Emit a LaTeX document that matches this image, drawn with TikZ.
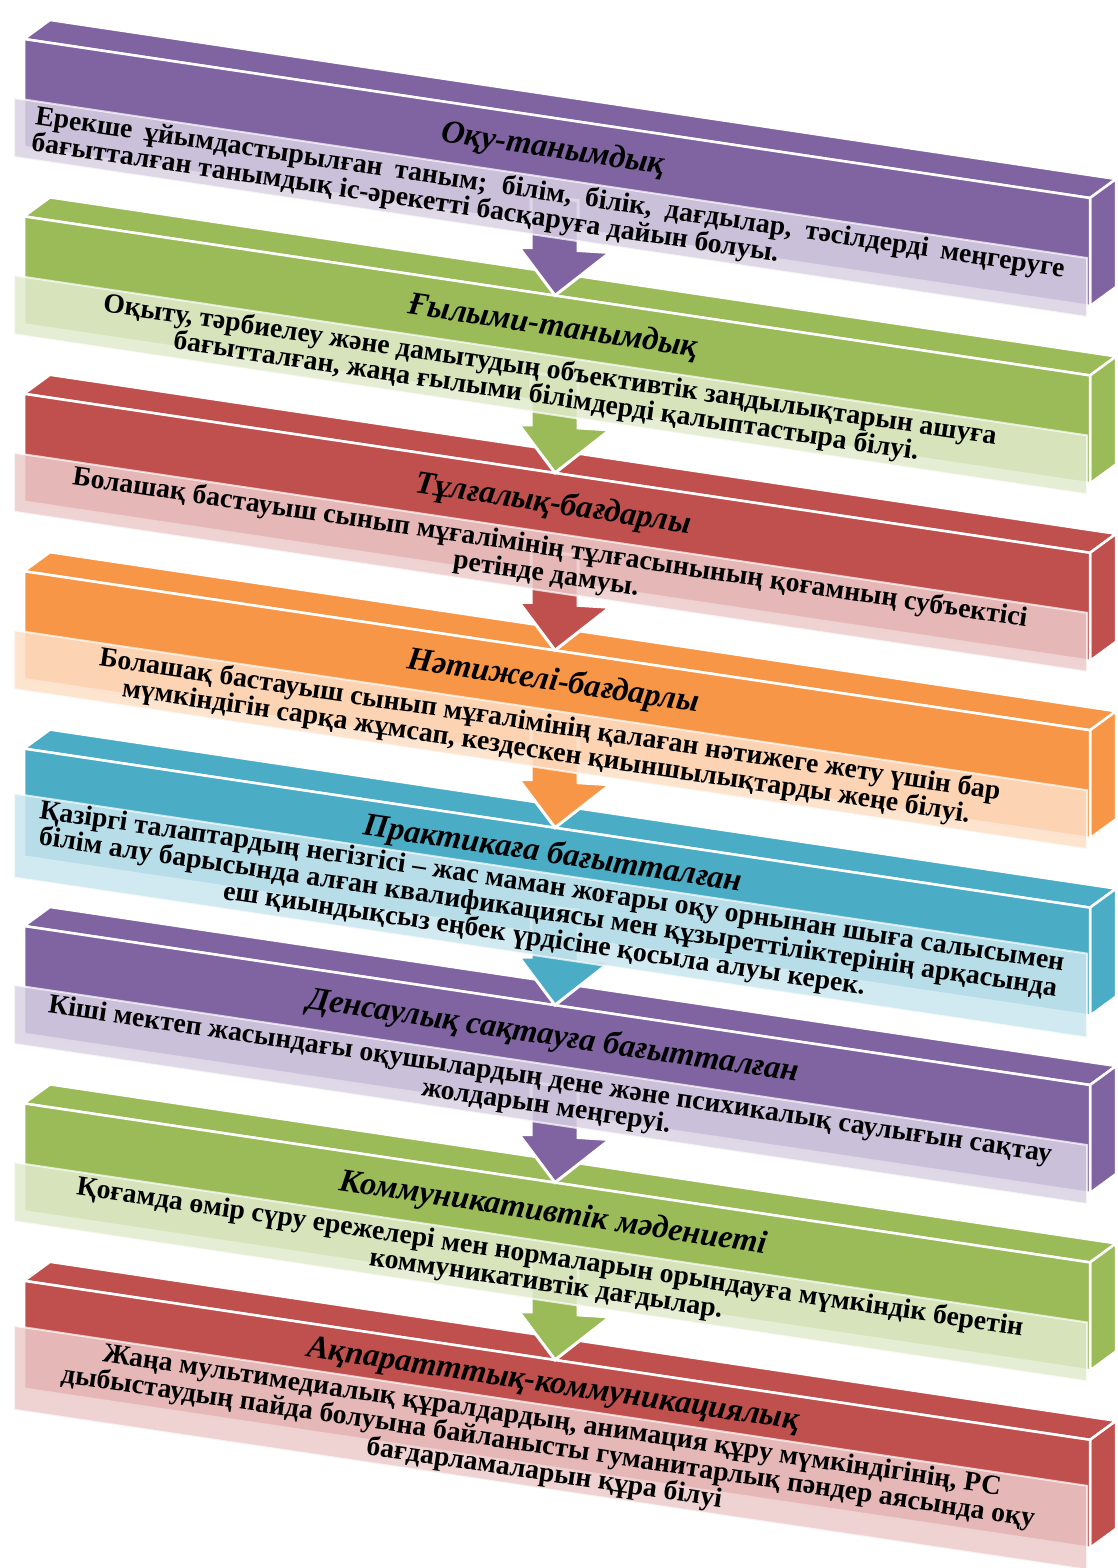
\documentclass[tikz,border=0pt]{standalone}
\usepackage{fontspec}
\setmainfont{Liberation Serif}
\definecolor{cPurple}{HTML}{8064A2}
\definecolor{cGreen}{HTML}{9BBB59}
\definecolor{cRed}{HTML}{C0504D}
\definecolor{cOrange}{HTML}{F79646}
\definecolor{cTeal}{HTML}{4BACC6}
\tikzset{
  face/.style={draw=white, line width=2.5pt, line join=round},
  stripbox/.style={draw=white, draw opacity=0.7, line width=2pt, fill opacity=0.85},
  arrowbox/.style={draw=white, line width=3pt, line join=miter},
  titletext/.style={font=\bfseries\itshape\fontsize{32.5}{32}\selectfont, rotate=-8.47, inner sep=0pt},
  bodytext/.style={font=\bfseries\fontsize{27.7}{26.5}\selectfont, rotate=-8.47, align=center, inner sep=0pt},
}
\newcommand\mkbox[2]{%
  \path[face, fill=#2] (50,{20+#1}) -- (1116,{179+#1}) -- (1090,{198+#1}) -- (24,{39+#1}) -- cycle;
  \path[face, fill=#2] (1090,{198+#1}) -- (1116,{179+#1}) -- (1116,{287+#1}) -- (1090,{306+#1}) -- cycle;
  \path[face, fill=#2] (24,{39+#1}) -- (1090,{198+#1}) -- (1090,{306+#1}) -- (24,{147+#1}) -- cycle;
}
\newcommand\mkstrip[4]{%
  \path[stripbox, fill=#2!30!white] (14,{#3+#1}) -- (1087,{#3+160+#1}) -- (1087,{#4+160+#1}) -- (14,{#4+#1}) -- cycle;
}
\newcommand\mkarrow[2]{%
  \path[arrowbox, fill=#2] (531,{#1-100}) -- (578,{#1-95}) -- (578,{#1-45}) -- (610,{#1-43}) -- (555,{#1}) -- (519,{#1-48}) -- (531,{#1-48}) -- cycle;
}
\begin{document}
\begin{tikzpicture}[x=1pt,y=-1pt]
\useasboundingbox (0,0) rectangle (1118,1568);
% bars
\mkbox{0}{cPurple}
\mkbox{177.4}{cGreen}
\mkbox{354.8}{cRed}
\mkbox{532.2}{cOrange}
\mkbox{709.6}{cTeal}
\mkbox{887}{cPurple}
\mkbox{1064.4}{cGreen}
\mkbox{1241.8}{cRed}
% arrows
\mkarrow{295.5}{cPurple}
\mkarrow{472.9}{cGreen}
\mkarrow{650.3}{cRed}
\mkarrow{827.7}{cOrange}
\mkarrow{1005.1}{cTeal}
\mkarrow{1182.5}{cPurple}
\mkarrow{1359.9}{cGreen}
% strips
\mkstrip{0}{cPurple}{98}{157}
\mkstrip{177.4}{cGreen}{98}{157}
\mkstrip{354.8}{cRed}{98}{157}
\mkstrip{532.2}{cOrange}{98}{157}
\mkstrip{709.6}{cTeal}{84}{168}
\mkstrip{887}{cPurple}{98}{157}
\mkstrip{1064.4}{cGreen}{98}{157}
\mkstrip{1241.8}{cRed}{84}{168}
% titles
\node[titletext] (t1) at (553,150) {Оқу-танымдық};
\node[titletext] (t2) at (553,327.4) {Ғылыми-танымдық};
\node[titletext] (t3) at (553,504.8) {Тұлғалық-бағдарлы};
\node[titletext] (t4) at (553,682.2) {Нәтижелі-бағдарлы};
\node[titletext] (t5) at (553,855) {Практикаға бағытталған};
\node[titletext] (t6) at (553,1037) {Денсаулық сақтауға бағытталған};
\node[titletext] (t7) at (553,1214.4) {Коммуникативтік мәдениеті};
\node[titletext] (t8) at (553,1386) {Ақпаратттық-коммуникациялық};
% bodies
\node[bodytext, align=left] (b1) at (548,207) {\makebox[1040pt][s]{Ерекше ұйымдастырылған таным; білім, білік, дағдылар, тәсілдерді меңгеруге}\\бағытталған танымдық іс-әрекетті басқаруға дайын болуы.};
\node[bodytext] (b2) at (548,384.4) {Оқыту, тәрбиелеу және дамытудың объективтік заңдылықтарын ашуға\\бағытталған, жаңа ғылыми білімдерді қалыптастыра білуі.};
\node[bodytext] (b3) at (548,561.8) {Болашақ бастауыш сынып мұғалімінің тұлғасынының қоғамның субъектісі\\ретінде дамуы.};
\node[bodytext] (b4) at (548,739.2) {Болашақ бастауыш сынып мұғалімінің қалаған нәтижеге жету үшін бар\\мүмкіндігін сарқа жұмсап, кездескен қиыншылықтарды жеңе білуі.};
\node[bodytext] (b5) at (548,914) {Қазіргі талаптардың негізгісі – жас маман жоғары оқу орнынан шыға салысымен\\білім алу барысында алған квалификациясы мен құзыреттіліктерінің арқасында\\еш қиындықсыз еңбек үрдісіне қосыла алуы керек.};
\node[bodytext] (b6) at (548,1094) {Кіші мектеп жасындағы оқушылардың дене және психикалық  саулығын сақтау\\жолдарын меңгеруі.};
\node[bodytext] (b7) at (548,1271.4) {Қоғамда өмір сүру ережелері мен нормаларын орындауға мүмкіндік беретін\\коммуникативтік дағдылар.};
\node[bodytext] (b8) at (548,1448) {Жаңа мультимедиалық құралдардың, анимация құру мүмкіндігінің, РС\\дыбыстаудың пайда болуына байланысты гуманитарлық пәндер аясында оқу\\бағдарламаларын құра білуі};
\end{tikzpicture}
\end{document}
